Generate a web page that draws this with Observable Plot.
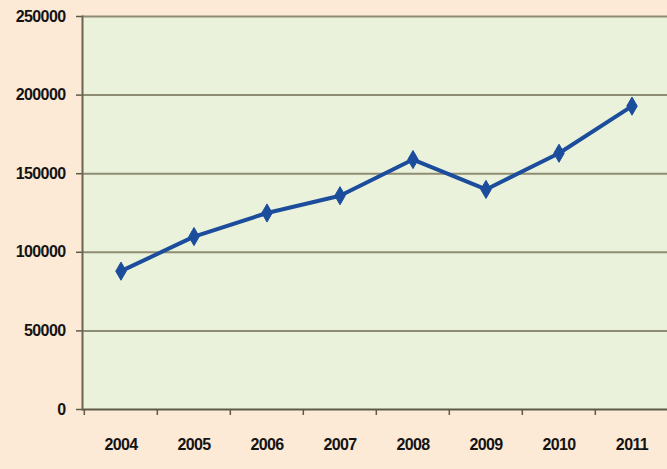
<!DOCTYPE html>
<html>
<head>
<meta charset="utf-8">
<script src="https://cdn.jsdelivr.net/npm/d3@7"></script>
<script src="https://cdn.jsdelivr.net/npm/@observablehq/plot@0.6"></script>
<style>
  html, body { margin: 0; padding: 0; background: #fce9d6; }
  svg text { letter-spacing: -0.6px; }
</style>
</head>
<body>
<div id="chart"></div>
<script>
const years = ["2004", "2005", "2006", "2007", "2008", "2009", "2010", "2011"];
const values = [88000, 110000, 125000, 136000, 159000, 140000, 163000, 193000];
const yTicks = [0, 50000, 100000, 150000, 200000, 250000];

const data = years.map((year, i) => ({year, value: values[i]}));

const xRange = [82, 669];
const bandwidth = (xRange[1] - xRange[0]) / years.length;

const chart = Plot.plot({
  width: 667,
  height: 469,
  marginTop: 16,
  marginBottom: 60,
  marginLeft: 82,
  marginRight: 0,
  style: {
    background: "#fce9d6",
    fontFamily: "'Liberation Sans', Arial, sans-serif",
    fontSize: "16px",
    fontWeight: "bold",
    color: "#141414",
    overflow: "hidden"
  },
  x: {type: "band", domain: years, range: xRange, padding: 0, label: null},
  y: {domain: [0, 250000], label: null},
  marks: [
    Plot.frame({fill: "#ebf2dc", stroke: null}),
    Plot.ruleY(yTicks.filter(d => d > 0), {stroke: "#8e8c72", strokeWidth: 2}),
    Plot.axisY({ticks: yTicks, tickSize: 6, tickPadding: 11, tickFormat: d => String(d), stroke: "#5e5a48", strokeWidth: 1.5}),
    Plot.axisX({tickSize: 6, tickFormat: () => "", dx: -bandwidth / 2, stroke: "#5e5a48", strokeWidth: 1.5}),
    Plot.axisX({tickSize: 0, tickPadding: 29}),
    Plot.ruleY([0], {stroke: "#5e5a48", strokeWidth: 2}),
    Plot.frame({anchor: "left", stroke: "#6b6450", strokeWidth: 2}),
    Plot.line(data, {x: "year", y: "value", stroke: "#1c4d9c", strokeWidth: 4, strokeLinejoin: "round"}),
    Plot.dot(data, {x: "year", y: "value", symbol: "diamond", r: 5.5, fill: "#1c4d9c", stroke: "#1c4d9c", strokeWidth: 1})
  ]
});

document.getElementById("chart").appendChild(chart);
</script>
</body>
</html>
